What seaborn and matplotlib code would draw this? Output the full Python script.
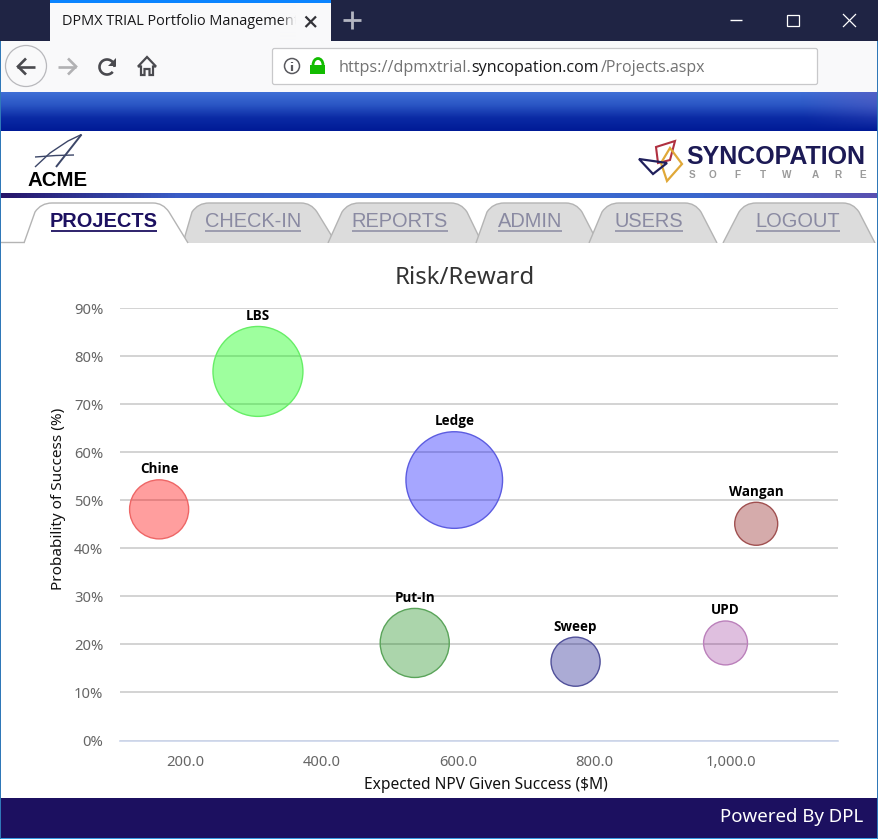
"""
Risk/Reward bubble chart inside the DPMX browser window
"""
import numpy as np
import pandas as pd
import matplotlib
matplotlib.use('Agg')
import matplotlib.pyplot as plt
import seaborn as sns
from matplotlib.colors import LinearSegmentedColormap, to_rgb
from matplotlib.patches import Rectangle, Circle, Polygon, PathPatch, FancyBboxPatch, Arc
from matplotlib.path import Path

# Chart values
projects = ['LBS', 'Ledge', 'Chine', 'Wangan', 'Put-In', 'Sweep', 'UPD']
npv = [306, 594, 161, 1037, 536, 772, 992]
probability = [76.8, 54.2, 48.1, 45.1, 20.3, 16.4, 20.3]
bubble_size = [202, 233, 87, 46, 119, 60, 48]

fill_colors = ['#00ff00', '#0000ff', '#ff0000', '#800000', '#008000', '#000080', '#800080']
fill_alphas = [0.38, 0.35, 0.38, 0.33, 0.33, 0.33, 0.25]
edge_colors = ['#66ee66', '#5c5ce0', '#ee6666', '#a05050', '#5aa45a', '#50509a', '#bb80bb']

x_ticks = [200, 400, 600, 800, 1000]
x_tick_labels = ['200.0', '400.0', '600.0', '800.0', '1,000.0']
y_ticks = [0, 10, 20, 30, 40, 50, 60, 70, 80, 90]
y_tick_labels = ['0%', '10%', '20%', '30%', '40%', '50%', '60%', '70%', '80%', '90%']

WIDTH, HEIGHT = 879, 839
UI_FONT = 'Open Sans'
TAB_FONT = 'Liberation Sans'
CHART_FONT = 'Noto Sans'

sns.set_style('white')
plt.rcParams['font.family'] = [CHART_FONT, 'DejaVu Sans']

fig = plt.figure(figsize=(WIDTH / 100, HEIGHT / 100), dpi=100, facecolor='white')

# Page furniture is drawn in pixel coordinates on a full size axes
ui = fig.add_axes([0, 0, 1, 1], zorder=0)
ui.set_xlim(0, WIDTH)
ui.set_ylim(HEIGHT, 0)
ui.axis('off')


def px(size):
    return size * 0.72


def gradient(x0, x1, y0, y1, colors, vertical=True):
    cmap = LinearSegmentedColormap.from_list('g', colors)
    ramp = np.linspace(0, 1, 256)
    ramp = ramp[:, None] if vertical else ramp[None, :]
    ui.imshow(ramp, cmap=cmap, extent=(x0, x1, y1, y0), aspect='auto', zorder=1)
    ui.set_xlim(0, WIDTH)
    ui.set_ylim(HEIGHT, 0)


def rect(x0, y0, x1, y1, color, zorder=1):
    ui.add_patch(Rectangle((x0, y0), x1 - x0, y1 - y0, fc=color, ec='none', zorder=zorder))


def line(xs, ys, color, lw=1.0, zorder=3, cap='butt'):
    ui.plot(xs, ys, color=color, lw=lw, zorder=zorder, solid_capstyle=cap, solid_joinstyle='miter')


def label(x, y, s, size, color, font=UI_FONT, weight='normal', ha='left', zorder=4):
    return ui.text(x, y, s, fontsize=px(size), color=color, family=font, weight=weight,
                   ha=ha, va='center', zorder=zorder)


# Title bar and toolbar
rect(0, 0, WIDTH, 41, '#1f2444')
rect(50, 0, 331, 41, '#f9f9fa')
rect(50, 0, 331, 3, '#0a84ff', zorder=2)
rect(0, 41, WIDTH, 92, '#f9f9fa')
label(62, 21.5, 'DPMX TRIAL Portfolio Management', 14.5, '#18181a')
# tab title fades out before the close cross
fade = np.ones((1, 64, 4))
fade[..., :3] = to_rgb('#f9f9fa')
fade[..., 3] = np.linspace(0, 1, 64)
ui.imshow(fade, extent=(280, 296, 41, 3), aspect='auto', zorder=5)
rect(296, 3, 331, 41, '#f9f9fa', zorder=5)
ui.set_xlim(0, WIDTH)
ui.set_ylim(HEIGHT, 0)
line([305.5, 316], [16.5, 27], '#333338', 1.6, 6)
line([305.5, 316], [27, 16.5], '#333338', 1.6, 6)
line([352, 352], [11, 29], '#b4b6c2', 2)
line([343, 361], [20, 20], '#b4b6c2', 2)

# Window controls
line([730, 742], [20, 20], 'white', 1)
ui.add_patch(Rectangle((787.5, 14.5), 11.5, 11.5, fc='none', ec='white', lw=0.9, zorder=3))
line([843, 856], [14, 27], 'white', 0.9)
line([843, 856], [27, 14], 'white', 0.9)

# Toolbar icons
ui.add_patch(Circle((26, 66), 20.5, fc='#f9f9fa', ec='#b8b8bc', lw=0.9, zorder=3))
line([17, 35], [66.5, 66.5], '#4a4a4f', 1.9)
line([26, 18, 26], [58.5, 66.5, 74.5], '#4a4a4f', 1.9)
line([58, 76], [66.5, 66.5], '#b1b1b3', 1.9)
line([68, 76, 68], [58.5, 66.5, 74.5], '#b1b1b3', 1.9)
ui.add_patch(Arc((107, 67), 15, 15, theta1=-320, theta2=0, ec='#4a4a4f', lw=1.9, zorder=3))
ui.add_patch(Polygon([(116, 58), (116, 66), (108, 66)], fc='#4a4a4f', ec='none', zorder=3))
ui.add_patch(Polygon([(138, 66.5), (147, 57), (156, 66.5), (153, 66.5), (153, 75), (149.5, 75),
                      (149.5, 69), (144.5, 69), (144.5, 75), (141, 75), (141, 66.5)],
                     fc='none', ec='#4a4a4f', lw=1.6, zorder=3))

# Address bar
ui.add_patch(FancyBboxPatch((272.5, 48.5), 545, 36, boxstyle='round,pad=0,rounding_size=2',
                            fc='white', ec='#c8c8ca', lw=0.9, zorder=2))
ui.add_patch(Circle((292, 66), 7.5, fc='none', ec='#5a5a5f', lw=1.1, zorder=3))
line([292, 292], [65, 70.5], '#5a5a5f', 1.6)
line([292, 292], [61.5, 63.2], '#5a5a5f', 1.6)
rect(310.5, 65, 325.5, 74, '#12bc00', zorder=3)
ui.add_patch(Arc((318, 65), 10, 13, theta1=180, theta2=360, ec='#12bc00', lw=2, zorder=3))
label(339, 67.5, 'https://dpmxtrial.', 16.2, '#737373')
label(471, 67.5, 'syncopation.com', 16.1, '#18181a')
label(600.5, 67.5, '/Projects.aspx', 16, '#737373')

# Banner, header and stripe
gradient(0, WIDTH, 92, 131, ['#3f6fd6', '#2a55c4', '#0a2aa4', '#001a96'])
shade = np.ones((64, 64, 4))
shade[..., :3] = to_rgb('#5a5ac0')
shade[..., 3] = np.linspace(0, 0.7, 64)[None, :] * np.linspace(1, 0, 64)[:, None]
ui.imshow(shade, extent=(800, WIDTH, 131, 92), aspect='auto', zorder=2)
ui.set_xlim(0, WIDTH)
ui.set_ylim(HEIGHT, 0)
gradient(0, WIDTH, 193, 198, ['#261468', '#3a5cc6', '#3a6ad0', '#3a6ad0', '#3a66cc', '#5a50b0'],
         vertical=False)

# ACME logo
line([81.5, 56], [134.5, 167], '#3c4668', 1.4)
line([81.5, 68, 50, 35], [134.5, 141, 153, 167], '#3c4668', 1.0)
line([35, 56, 74], [157, 155.5, 155], '#3c4668', 1.0)
label(27, 180, 'ACME', 20.4, 'black', font=TAB_FONT, weight='bold')

# Syncopation logo
ui.add_patch(Polygon([(675, 141), (656, 147), (658, 163), (670, 160)], fc='none', ec='#b03040', lw=1.5, zorder=3))
ui.add_patch(Polygon([(670, 148), (682, 164), (667, 181), (661, 163)], fc='none', ec='#e0a838', lw=1.6, zorder=3))
ui.add_patch(Polygon([(639, 159), (667, 163), (653, 174)], fc='none', ec='#20205c', lw=1.6, zorder=3))
label(686, 157.5, 'SYNCOPATION', 25, '#1c1a55', font=TAB_FONT, weight='bold')
for letter, lx in zip('SOFTWARE', [691.7, 713, 737, 763, 787, 815, 838, 863]):
    label(lx, 174.5, letter, 10, '#9a9a9a', font=TAB_FONT, weight='bold', ha='center')


# Navigation tabs
def tab(base_left, top_left, top_right, base_right, fill, base_y=243, zorder=2):
    top = 203
    verts = [(base_left, base_y), (top_left - 3, top + 9), (top_left + 3, top), (top_left + 14, top),
             (top_right - 12, top), (top_right - 2, top), (top_right + 4, top + 9), (base_right, base_y)]
    codes = [Path.MOVETO, Path.LINETO, Path.CURVE3, Path.CURVE3,
             Path.LINETO, Path.CURVE3, Path.CURVE3, Path.LINETO]
    ui.add_patch(PathPatch(Path(verts, codes), fc=fill, ec='#b4b4b4', lw=1.0, zorder=zorder))


tab(183, 195, 313, 336, '#dcdcdc')
tab(328, 345, 463, 482, '#dcdcdc')
tab(476, 490, 578, 598, '#dcdcdc')
tab(589, 605, 697, 717, '#dcdcdc')
tab(723, 742, 855, 875, '#dcdcdc')
rect(0, 243, WIDTH, 247, 'white', zorder=2.5)
line([0, 24], [241.5, 241.5], '#b4b4b4', 1.0)
tab(24, 38, 165, 188, 'white', zorder=2.7)

tab_names = ['CHECK-IN', 'REPORTS', 'ADMIN', 'USERS', 'LOGOUT']
tab_spans = [(205, 301), (352, 448), (498, 562), (615, 683), (756, 840)]
label(104, 221.5, 'PROJECTS', 20, '#1c1060', font=TAB_FONT, weight='bold', ha='center')
line([51, 157], [231, 231], '#1c1060', 1.3, 4)
for name, (s0, s1) in zip(tab_names, tab_spans):
    label((s0 + s1) / 2, 221.5, name, 20, '#8a8aa2', font=TAB_FONT, ha='center')
    line([s0, s1], [231, 231], '#8a8aa2', 1.1, 4)

# Footer and window border
rect(0, 798, WIDTH, 837.5, '#1c1060')
rect(0, 837.5, WIDTH, HEIGHT, '#3a9ae0')
label(863, 816.5, 'Powered By DPL', 18.7, 'white', font=CHART_FONT, ha='right')
rect(0, 41, 1.5, HEIGHT, '#2f78b8', zorder=6)
rect(877.5, 41, WIDTH, HEIGHT, '#2f78b8', zorder=6)

# The chart itself
AX_LEFT, AX_RIGHT, AX_TOP, AX_BOTTOM = 120, 838, 308, 740.5
ax = fig.add_axes([AX_LEFT / WIDTH, 1 - AX_BOTTOM / HEIGHT,
                   (AX_RIGHT - AX_LEFT) / WIDTH, (AX_BOTTOM - AX_TOP) / HEIGHT], zorder=1)
ax.patch.set_alpha(0)

df = pd.DataFrame({'project': projects, 'npv': npv, 'probability': probability, 'size': bubble_size})
palette = {p: (*to_rgb(c), a) for p, c, a in zip(projects, fill_colors, fill_alphas)}

sns.scatterplot(data=df, x='npv', y='probability', hue='project', palette=palette, size='size',
                sizes=(958, 4837), size_norm=(46, 233), legend=False, alpha=None, clip_on=False,
                ax=ax, zorder=3)
points = ax.collections[0]
points.set_edgecolors(edge_colors)
points.set_linewidth(1.0)

ax.set_xlim(103.6, 1157)
ax.set_ylim(0, 90)
ax.set_xticks(x_ticks, x_tick_labels)
ax.set_yticks(y_ticks, y_tick_labels)
ax.yaxis.grid(True, color='#cccccc', lw=1.2)
ax.xaxis.grid(False)
ax.set_axisbelow(True)
for side in ['top', 'left', 'right']:
    ax.spines[side].set_visible(False)
ax.spines['bottom'].set_color('#ccd6eb')
ax.spines['bottom'].set_linewidth(1.2)
ax.tick_params(axis='x', length=7.2, width=0.9, color='#ccd6eb', labelsize=px(14.8), labelcolor='#666666', pad=3)
ax.tick_params(axis='y', length=0, labelsize=px(14.8), labelcolor='#666666', pad=12)

ax.set_xlabel('Expected NPV Given Success ($M)', fontsize=px(15.5), color='#111111')
ax.xaxis.set_label_coords(0.51, -0.104)
ax.xaxis.label.set_verticalalignment('center')
ax.set_ylabel('Probability of Success (%)', fontsize=px(15.3), color='#111111')
ax.yaxis.set_label_coords(-0.085, 0.558)
ax.yaxis.label.set_verticalalignment('center')
ax.set_title('Risk/Reward', fontsize=px(24), color='#333333', x=0.48, y=1.051, va='center')

# Bubble names sit a fixed distance above each circle
for name, x, y, s in zip(projects, npv, probability, points.get_sizes()):
    ax.annotate(name, (x, y), xytext=(0, np.sqrt(s) / 2 + px(10.5)), textcoords='offset points',
                ha='center', va='center', fontsize=px(13.5), fontweight='bold', family='Open Sans',
                color='black', zorder=5)

fig.savefig('out.png', dpi=100)
plt.close(fig)
